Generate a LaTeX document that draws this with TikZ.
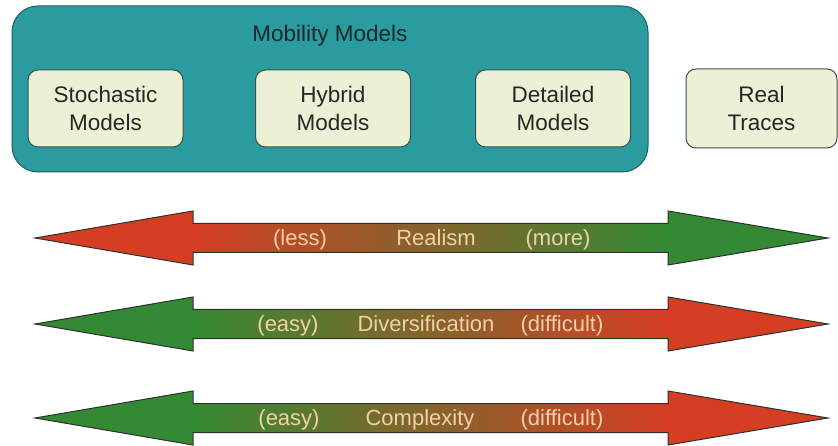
\documentclass[tikz,border=0pt]{standalone}
\usepackage{fontspec}
\setmainfont{Liberation Sans}
\definecolor{tealbox}{RGB}{42,155,158}
\definecolor{tealedge}{RGB}{30,95,98}
\definecolor{creambox}{RGB}{236,240,212}
\definecolor{boxedge}{RGB}{55,80,78}
\definecolor{arrred}{RGB}{214,62,36}
\definecolor{arrgreen}{RGB}{52,138,52}
\definecolor{arredge}{RGB}{45,50,45}
\definecolor{labeltext}{RGB}{244,208,168}
\definecolor{titletext}{RGB}{25,40,40}
\tikzset{
  x=1pt, y=-1pt,
  bigbox/.style={draw=tealedge, line width=1pt, fill=tealbox, rounded corners=26pt},
  modelbox/.style={draw=boxedge, line width=1pt, fill=creambox, rounded corners=10pt,
    minimum width=155pt, minimum height=77pt, align=center, inner sep=0pt,
    font=\fontsize{22.5}{28}\selectfont, text=black!85},
  arrlabel/.style={font=\fontsize{22}{26}\selectfont, text=labeltext, inner sep=0pt, anchor=base},
  arroutline/.style={draw=arredge, line width=1pt, line join=miter}
}
% double-headed arrow: #1 centre y, #2 left colour, #3 right colour
\newcommand{\dblarrow}[3]{%
  \fill[#2] (35,#1) -- (193,#1-27) -- (193,#1+27) -- cycle;
  \fill[#3] (828,#1) -- (668,#1-27) -- (668,#1+27) -- cycle;
  \shade[left color=#2, right color=#3] (192.5,#1-14.5) rectangle (668.5,#1+14.5);
  \draw[arroutline] (35,#1) -- (193,#1-27) -- (193,#1-14.5) -- (668,#1-14.5)
    -- (668,#1-27) -- (828,#1) -- (668,#1+27) -- (668,#1+14.5)
    -- (193,#1+14.5) -- (193,#1+27) -- cycle;
}
\begin{document}
\begin{tikzpicture}
\useasboundingbox[fill=white] (0,0) rectangle (838,446);

% container for the model families
\draw[bigbox] (12,6) rectangle (648,172);
\node[font=\fontsize{22.5}{28}\selectfont, text=titletext, anchor=base] (title) at (330,41.5) {Mobility Models};

\node[modelbox] (stoch) at (105.5,108.5) {Stochastic\\Models};
\node[modelbox] (hybrid) at (333,108.5) {Hybrid\\Models};
\node[modelbox] (detail) at (553,108.5) {Detailed\\Models};
\node[modelbox, minimum width=151pt, minimum height=79pt] (real) at (761.5,108.5) {Real\\Traces};

% realism scale
\dblarrow{238}{arrred}{arrgreen}
\node[arrlabel] (less) at (300,245.5) {(less)};
\node[arrlabel] (realism) at (436,245.5) {Realism};
\node[arrlabel] (more) at (558,245.5) {(more)};

% diversification scale
\dblarrow{324}{arrgreen}{arrred}
\node[arrlabel] (easyA) at (288,331.5) {(easy)};
\node[arrlabel] (divers) at (426,331.5) {Diversification};
\node[arrlabel] (diffA) at (562,331.5) {(difficult)};

% complexity scale
\dblarrow{418}{arrgreen}{arrred}
\node[arrlabel] (easyB) at (289,425.5) {(easy)};
\node[arrlabel] (complex) at (420,425.5) {Complexity};
\node[arrlabel] (diffB) at (562,425.5) {(difficult)};
\end{tikzpicture}
\end{document}
